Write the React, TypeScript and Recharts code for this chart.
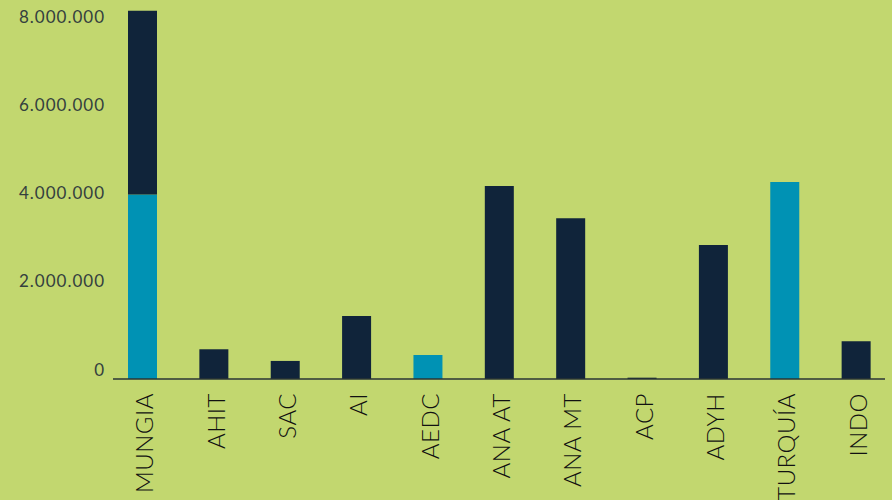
import React from "react";
import { BarChart, Bar, XAxis, YAxis } from "recharts";

// Values (units)
const categories = ["MUNGIA", "AHIT", "SAC", "AI", "AEDC", "ANA AT", "ANA MT", "ACP", "ADYH", "TURQUÍA", "INDO"];
const cyanValues = [4190000, 0, 0, 0, 545000, 0, 0, 0, 0, 4470000, 0];
const navyValues = [4170000, 675000, 410000, 1430000, 0, 4380000, 3650000, 30000, 3040000, 0, 855000];
const yTicks = [0, 2000000, 4000000, 6000000, 8000000];

const data = categories.map((name, i) => ({
  name,
  cyan: cyanValues[i],
  navy: navyValues[i],
}));

const BG = "#c2d76f";
const NAVY = "#10243a";
const CYAN = "#0092b4";
const FONT = "Lato, 'Open Sans', sans-serif";

const fmt = (v: number) => v.toLocaleString("de-DE");

const YTick = (props: any) => {
  const { x, y, payload } = props;
  return (
    <text
      x={x}
      y={y - 10}
      textAnchor="end"
      dominantBaseline="central"
      fill="#34403e"
      fontSize={17}
      letterSpacing={1}
      fontFamily={FONT}
    >
      {fmt(payload.value)}
    </text>
  );
};

const XTick = (props: any) => {
  const { x, y, payload } = props;
  return (
    <text
      x={0}
      y={0}
      transform={`translate(${x + 1},${y + 6}) rotate(-90)`}
      textAnchor="end"
      dominantBaseline="central"
      fill="#111"
      fontSize={24}
      fontWeight={300}
      letterSpacing={0.5}
      fontFamily={FONT}
    >
      {payload.value}
    </text>
  );
};

export default function App() {
  return (
    <div style={{ position: "absolute", left: 0, top: 0, width: 892, height: 500, background: BG }}>
      <BarChart width={892} height={500} data={data} margin={{ top: 9, right: 7, bottom: 0, left: 0 }} barSize={29}>
        <XAxis
          dataKey="name"
          interval={0}
          height={121}
          tickLine={false}
          axisLine={{ stroke: "#2a3535", strokeWidth: 1.5 }}
          padding={{ left: -6, right: -7 }}
          tick={<XTick />}
        />
        <YAxis
          width={113}
          domain={[0, 8400000]}
          ticks={yTicks}
          axisLine={false}
          tickLine={false}
          tick={<YTick />}
        />
        <Bar dataKey="cyan" stackId="s" fill={CYAN} isAnimationActive={false} />
        <Bar dataKey="navy" stackId="s" fill={NAVY} isAnimationActive={false} />
      </BarChart>
    </div>
  );
}
